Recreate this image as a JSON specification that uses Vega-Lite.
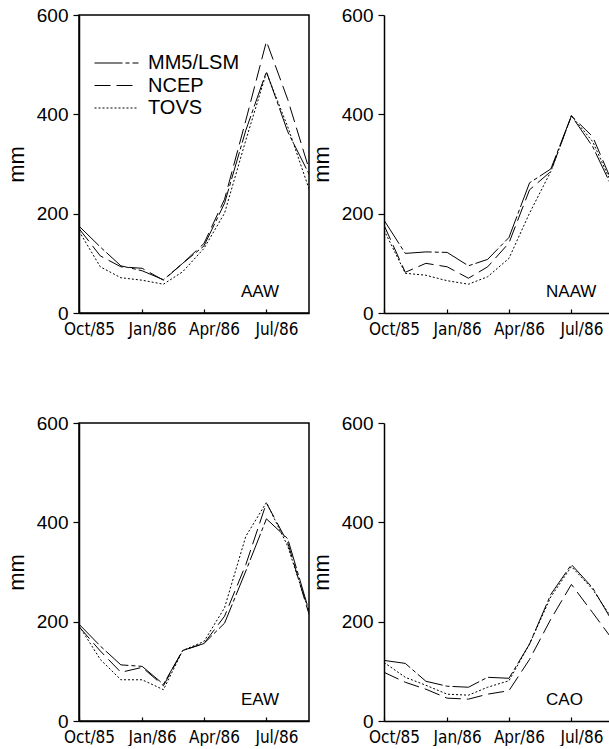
{
  "$schema": "https://vega.github.io/schema/vega-lite/v6.json",
  "padding": {"left": 4, "top": 5, "right": 0, "bottom": 0},
  "background": "white",
  "datasets": {
    "precip": [
      {"region":"AAW","series":"MM5/LSM","month":"1985-10-01","value":175},
      {"region":"AAW","series":"MM5/LSM","month":"1985-11-01","value":133},
      {"region":"AAW","series":"MM5/LSM","month":"1985-12-01","value":95},
      {"region":"AAW","series":"MM5/LSM","month":"1986-01-01","value":85},
      {"region":"AAW","series":"MM5/LSM","month":"1986-02-01","value":67},
      {"region":"AAW","series":"MM5/LSM","month":"1986-03-01","value":100},
      {"region":"AAW","series":"MM5/LSM","month":"1986-04-01","value":135},
      {"region":"AAW","series":"MM5/LSM","month":"1986-05-01","value":221},
      {"region":"AAW","series":"MM5/LSM","month":"1986-06-01","value":368},
      {"region":"AAW","series":"MM5/LSM","month":"1986-07-01","value":486},
      {"region":"AAW","series":"MM5/LSM","month":"1986-08-01","value":365},
      {"region":"AAW","series":"MM5/LSM","month":"1986-09-01","value":280},
      {"region":"AAW","series":"NCEP","month":"1985-10-01","value":170},
      {"region":"AAW","series":"NCEP","month":"1985-11-01","value":115},
      {"region":"AAW","series":"NCEP","month":"1985-12-01","value":93},
      {"region":"AAW","series":"NCEP","month":"1986-01-01","value":90},
      {"region":"AAW","series":"NCEP","month":"1986-02-01","value":66},
      {"region":"AAW","series":"NCEP","month":"1986-03-01","value":100},
      {"region":"AAW","series":"NCEP","month":"1986-04-01","value":140},
      {"region":"AAW","series":"NCEP","month":"1986-05-01","value":229},
      {"region":"AAW","series":"NCEP","month":"1986-06-01","value":388},
      {"region":"AAW","series":"NCEP","month":"1986-07-01","value":547},
      {"region":"AAW","series":"NCEP","month":"1986-08-01","value":430},
      {"region":"AAW","series":"NCEP","month":"1986-09-01","value":290},
      {"region":"AAW","series":"TOVS","month":"1985-10-01","value":165},
      {"region":"AAW","series":"TOVS","month":"1985-11-01","value":93},
      {"region":"AAW","series":"TOVS","month":"1985-12-01","value":71},
      {"region":"AAW","series":"TOVS","month":"1986-01-01","value":66},
      {"region":"AAW","series":"TOVS","month":"1986-02-01","value":58},
      {"region":"AAW","series":"TOVS","month":"1986-03-01","value":83},
      {"region":"AAW","series":"TOVS","month":"1986-04-01","value":130},
      {"region":"AAW","series":"TOVS","month":"1986-05-01","value":201},
      {"region":"AAW","series":"TOVS","month":"1986-06-01","value":348},
      {"region":"AAW","series":"TOVS","month":"1986-07-01","value":484},
      {"region":"AAW","series":"TOVS","month":"1986-08-01","value":375},
      {"region":"AAW","series":"TOVS","month":"1986-09-01","value":250},
      {"region":"NAAW","series":"MM5/LSM","month":"1985-10-01","value":187},
      {"region":"NAAW","series":"MM5/LSM","month":"1985-11-01","value":120},
      {"region":"NAAW","series":"MM5/LSM","month":"1985-12-01","value":123},
      {"region":"NAAW","series":"MM5/LSM","month":"1986-01-01","value":122},
      {"region":"NAAW","series":"MM5/LSM","month":"1986-02-01","value":95},
      {"region":"NAAW","series":"MM5/LSM","month":"1986-03-01","value":108},
      {"region":"NAAW","series":"MM5/LSM","month":"1986-04-01","value":152},
      {"region":"NAAW","series":"MM5/LSM","month":"1986-05-01","value":262},
      {"region":"NAAW","series":"MM5/LSM","month":"1986-06-01","value":290},
      {"region":"NAAW","series":"MM5/LSM","month":"1986-07-01","value":397},
      {"region":"NAAW","series":"MM5/LSM","month":"1986-08-01","value":335},
      {"region":"NAAW","series":"MM5/LSM","month":"1986-09-01","value":245},
      {"region":"NAAW","series":"NCEP","month":"1985-10-01","value":177},
      {"region":"NAAW","series":"NCEP","month":"1985-11-01","value":82},
      {"region":"NAAW","series":"NCEP","month":"1985-12-01","value":100},
      {"region":"NAAW","series":"NCEP","month":"1986-01-01","value":93},
      {"region":"NAAW","series":"NCEP","month":"1986-02-01","value":70},
      {"region":"NAAW","series":"NCEP","month":"1986-03-01","value":93},
      {"region":"NAAW","series":"NCEP","month":"1986-04-01","value":141},
      {"region":"NAAW","series":"NCEP","month":"1986-05-01","value":248},
      {"region":"NAAW","series":"NCEP","month":"1986-06-01","value":285},
      {"region":"NAAW","series":"NCEP","month":"1986-07-01","value":397},
      {"region":"NAAW","series":"NCEP","month":"1986-08-01","value":355},
      {"region":"NAAW","series":"NCEP","month":"1986-09-01","value":255},
      {"region":"NAAW","series":"TOVS","month":"1985-10-01","value":167},
      {"region":"NAAW","series":"TOVS","month":"1985-11-01","value":80},
      {"region":"NAAW","series":"TOVS","month":"1985-12-01","value":76},
      {"region":"NAAW","series":"TOVS","month":"1986-01-01","value":65},
      {"region":"NAAW","series":"TOVS","month":"1986-02-01","value":58},
      {"region":"NAAW","series":"TOVS","month":"1986-03-01","value":73},
      {"region":"NAAW","series":"TOVS","month":"1986-04-01","value":110},
      {"region":"NAAW","series":"TOVS","month":"1986-05-01","value":201},
      {"region":"NAAW","series":"TOVS","month":"1986-06-01","value":285},
      {"region":"NAAW","series":"TOVS","month":"1986-07-01","value":397},
      {"region":"NAAW","series":"TOVS","month":"1986-08-01","value":345},
      {"region":"NAAW","series":"TOVS","month":"1986-09-01","value":250},
      {"region":"EAW","series":"MM5/LSM","month":"1985-10-01","value":195},
      {"region":"EAW","series":"MM5/LSM","month":"1985-11-01","value":151},
      {"region":"EAW","series":"MM5/LSM","month":"1985-12-01","value":113},
      {"region":"EAW","series":"MM5/LSM","month":"1986-01-01","value":110},
      {"region":"EAW","series":"MM5/LSM","month":"1986-02-01","value":74},
      {"region":"EAW","series":"MM5/LSM","month":"1986-03-01","value":142},
      {"region":"EAW","series":"MM5/LSM","month":"1986-04-01","value":156},
      {"region":"EAW","series":"MM5/LSM","month":"1986-05-01","value":197},
      {"region":"EAW","series":"MM5/LSM","month":"1986-06-01","value":302},
      {"region":"EAW","series":"MM5/LSM","month":"1986-07-01","value":407},
      {"region":"EAW","series":"MM5/LSM","month":"1986-08-01","value":367},
      {"region":"EAW","series":"MM5/LSM","month":"1986-09-01","value":222},
      {"region":"EAW","series":"NCEP","month":"1985-10-01","value":190},
      {"region":"EAW","series":"NCEP","month":"1985-11-01","value":141},
      {"region":"EAW","series":"NCEP","month":"1985-12-01","value":98},
      {"region":"EAW","series":"NCEP","month":"1986-01-01","value":108},
      {"region":"EAW","series":"NCEP","month":"1986-02-01","value":71},
      {"region":"EAW","series":"NCEP","month":"1986-03-01","value":142},
      {"region":"EAW","series":"NCEP","month":"1986-04-01","value":156},
      {"region":"EAW","series":"NCEP","month":"1986-05-01","value":211},
      {"region":"EAW","series":"NCEP","month":"1986-06-01","value":315},
      {"region":"EAW","series":"NCEP","month":"1986-07-01","value":439},
      {"region":"EAW","series":"NCEP","month":"1986-08-01","value":359},
      {"region":"EAW","series":"NCEP","month":"1986-09-01","value":215},
      {"region":"EAW","series":"TOVS","month":"1985-10-01","value":192},
      {"region":"EAW","series":"TOVS","month":"1985-11-01","value":124},
      {"region":"EAW","series":"TOVS","month":"1985-12-01","value":83},
      {"region":"EAW","series":"TOVS","month":"1986-01-01","value":83},
      {"region":"EAW","series":"TOVS","month":"1986-02-01","value":63},
      {"region":"EAW","series":"TOVS","month":"1986-03-01","value":142},
      {"region":"EAW","series":"TOVS","month":"1986-04-01","value":160},
      {"region":"EAW","series":"TOVS","month":"1986-05-01","value":228},
      {"region":"EAW","series":"TOVS","month":"1986-06-01","value":372},
      {"region":"EAW","series":"TOVS","month":"1986-07-01","value":440},
      {"region":"EAW","series":"TOVS","month":"1986-08-01","value":352},
      {"region":"EAW","series":"TOVS","month":"1986-09-01","value":220},
      {"region":"CAO","series":"MM5/LSM","month":"1985-10-01","value":122},
      {"region":"CAO","series":"MM5/LSM","month":"1985-11-01","value":116},
      {"region":"CAO","series":"MM5/LSM","month":"1985-12-01","value":80},
      {"region":"CAO","series":"MM5/LSM","month":"1986-01-01","value":70},
      {"region":"CAO","series":"MM5/LSM","month":"1986-02-01","value":68},
      {"region":"CAO","series":"MM5/LSM","month":"1986-03-01","value":88},
      {"region":"CAO","series":"MM5/LSM","month":"1986-04-01","value":86},
      {"region":"CAO","series":"MM5/LSM","month":"1986-05-01","value":155},
      {"region":"CAO","series":"MM5/LSM","month":"1986-06-01","value":255},
      {"region":"CAO","series":"MM5/LSM","month":"1986-07-01","value":315},
      {"region":"CAO","series":"MM5/LSM","month":"1986-08-01","value":268},
      {"region":"CAO","series":"MM5/LSM","month":"1986-09-01","value":195},
      {"region":"CAO","series":"NCEP","month":"1985-10-01","value":98},
      {"region":"CAO","series":"NCEP","month":"1985-11-01","value":78},
      {"region":"CAO","series":"NCEP","month":"1985-12-01","value":64},
      {"region":"CAO","series":"NCEP","month":"1986-01-01","value":46},
      {"region":"CAO","series":"NCEP","month":"1986-02-01","value":44},
      {"region":"CAO","series":"NCEP","month":"1986-03-01","value":54},
      {"region":"CAO","series":"NCEP","month":"1986-04-01","value":61},
      {"region":"CAO","series":"NCEP","month":"1986-05-01","value":124},
      {"region":"CAO","series":"NCEP","month":"1986-06-01","value":205},
      {"region":"CAO","series":"NCEP","month":"1986-07-01","value":275},
      {"region":"CAO","series":"NCEP","month":"1986-08-01","value":218},
      {"region":"CAO","series":"NCEP","month":"1986-09-01","value":160},
      {"region":"CAO","series":"TOVS","month":"1985-10-01","value":118},
      {"region":"CAO","series":"TOVS","month":"1985-11-01","value":88},
      {"region":"CAO","series":"TOVS","month":"1985-12-01","value":72},
      {"region":"CAO","series":"TOVS","month":"1986-01-01","value":54},
      {"region":"CAO","series":"TOVS","month":"1986-02-01","value":52},
      {"region":"CAO","series":"TOVS","month":"1986-03-01","value":68},
      {"region":"CAO","series":"TOVS","month":"1986-04-01","value":81},
      {"region":"CAO","series":"TOVS","month":"1986-05-01","value":155},
      {"region":"CAO","series":"TOVS","month":"1986-06-01","value":250},
      {"region":"CAO","series":"TOVS","month":"1986-07-01","value":311},
      {"region":"CAO","series":"TOVS","month":"1986-08-01","value":265},
      {"region":"CAO","series":"TOVS","month":"1986-09-01","value":200}
    ]
  },
  "config": {
    "view": {"stroke": "black", "strokeWidth": 1.5},
    "axis": {"grid": false, "domainColor": "black", "domainWidth": 1.5, "tickColor": "black", "tickWidth": 1.2, "labelColor": "black", "titleColor": "black"},
    "axisX": {"labelFont": "DejaVu Sans Condensed", "labelFontSize": 17, "tickSize": -4, "labelPadding": 12, "labelOffset": 10, "labelAngle": 0, "labelFlush": false, "labelOverlap": false},
    "axisY": {"titleFont": "Liberation Sans", "titleFontSize": 22, "titleFontWeight": "normal", "titlePadding": 8, "labelFont": "Liberation Sans", "labelFontSize": 19, "tickSize": 6, "labelPadding": 5, "labelFlush": false},
    "legend": {"orient": "none", "legendX": 27.5, "legendY": 38, "title": null, "padding": 0, "labelFont": "Liberation Sans", "labelFontSize": 20, "labelColor": "black", "symbolType": "M-4,0H4", "symbolSize": 121, "symbolStrokeWidth": 1, "symbolStrokeColor": "black", "symbolFillColor": "transparent", "labelOffset": 21.5, "rowPadding": 2.5}
  },
  "columns": 2,
  "spacing": {"column": 75, "row": 110},
  "bounds": "flush",
  "resolve": {"scale": {"strokeDash": "independent"}, "legend": {"strokeDash": "independent"}},
  "concat": [
    {
      "width": 230, "height": 298,
      "layer": [
        {
          "data": {"name": "precip"},
          "transform": [{"filter": "datum.region === 'AAW'"}],
          "mark": {"type": "line", "stroke": "black", "strokeWidth": 1, "clip": true},
          "encoding": {
            "x": {"field": "month", "type": "temporal", "scale": {"type": "utc", "domain": [{"year":1985,"month":10,"date":1,"utc":true},{"year":1986,"month":9,"date":1,"utc":true}]}, "axis": {"values": [{"year":1985,"month":10,"date":1,"utc":true},{"year":1986,"month":1,"date":1,"utc":true},{"year":1986,"month":4,"date":1,"utc":true},{"year":1986,"month":7,"date":1,"utc":true}], "format": "%b/%y", "title": null}},
            "y": {"field": "value", "type": "quantitative", "scale": {"domain": [0, 600], "nice": false}, "axis": {"values": [0, 200, 400, 600], "title": "mm"}},
            "strokeDash": {"field": "series", "type": "nominal", "scale": {"domain": ["MM5/LSM","NCEP","TOVS"], "range": [[28,3,4,3],[16,6],[2,2]]}}
          }
        },
        {
          "data": {"values": [{"label": "AAW"}]},
          "mark": {"type": "text", "align": "left", "baseline": "middle", "font": "Liberation Sans", "fontSize": 17, "color": "black"},
          "encoding": {
            "x": {"datum": {"year":1986,"month":5,"date":25,"utc":true}, "type": "temporal"},
            "y": {"datum": 42},
            "text": {"field": "label"}
          }
        }
      ]
    },
    {
      "width": 226, "height": 298,
      "view": {"stroke": null},
      "layer": [
        {
          "data": {"name": "precip"},
          "transform": [{"filter": "datum.region === 'NAAW'"}],
          "mark": {"type": "line", "stroke": "black", "strokeWidth": 1, "clip": true},
          "encoding": {
            "x": {"field": "month", "type": "temporal", "scale": {"type": "utc", "domain": [{"year":1985,"month":10,"date":1,"utc":true},{"year":1986,"month":8,"date":26,"hours":5,"utc":true}]}, "axis": {"values": [{"year":1985,"month":10,"date":1,"utc":true},{"year":1986,"month":1,"date":1,"utc":true},{"year":1986,"month":4,"date":1,"utc":true},{"year":1986,"month":7,"date":1,"utc":true}], "format": "%b/%y", "title": null}},
            "y": {"field": "value", "type": "quantitative", "scale": {"domain": [0, 600], "nice": false}, "axis": {"values": [0, 200, 400, 600], "title": "mm"}},
            "strokeDash": {"field": "series", "type": "nominal", "scale": {"domain": ["MM5/LSM","NCEP","TOVS"], "range": [[28,3,4,3],[16,6],[2,2]]}, "legend": null}
          }
        },
        {
          "mark": {"type": "rule", "stroke": "black", "strokeWidth": 1.5},
          "encoding": {"y": {"datum": 600}}
        },
        {
          "data": {"values": [{"label": "NAAW"}]},
          "mark": {"type": "text", "align": "left", "baseline": "middle", "font": "Liberation Sans", "fontSize": 17, "color": "black"},
          "encoding": {
            "x": {"datum": {"year":1986,"month":5,"date":25,"utc":true}, "type": "temporal"},
            "y": {"datum": 42},
            "text": {"field": "label"}
          }
        }
      ]
    },
    {
      "width": 230, "height": 298,
      "layer": [
        {
          "data": {"name": "precip"},
          "transform": [{"filter": "datum.region === 'EAW'"}],
          "mark": {"type": "line", "stroke": "black", "strokeWidth": 1, "clip": true},
          "encoding": {
            "x": {"field": "month", "type": "temporal", "scale": {"type": "utc", "domain": [{"year":1985,"month":10,"date":1,"utc":true},{"year":1986,"month":9,"date":1,"utc":true}]}, "axis": {"values": [{"year":1985,"month":10,"date":1,"utc":true},{"year":1986,"month":1,"date":1,"utc":true},{"year":1986,"month":4,"date":1,"utc":true},{"year":1986,"month":7,"date":1,"utc":true}], "format": "%b/%y", "title": null}},
            "y": {"field": "value", "type": "quantitative", "scale": {"domain": [0, 600], "nice": false}, "axis": {"values": [0, 200, 400, 600], "title": "mm"}},
            "strokeDash": {"field": "series", "type": "nominal", "scale": {"domain": ["MM5/LSM","NCEP","TOVS"], "range": [[28,3,4,3],[16,6],[2,2]]}, "legend": null}
          }
        },
        {
          "data": {"values": [{"label": "EAW"}]},
          "mark": {"type": "text", "align": "left", "baseline": "middle", "font": "Liberation Sans", "fontSize": 17, "color": "black"},
          "encoding": {
            "x": {"datum": {"year":1986,"month":5,"date":25,"utc":true}, "type": "temporal"},
            "y": {"datum": 42},
            "text": {"field": "label"}
          }
        }
      ]
    },
    {
      "width": 226, "height": 298,
      "view": {"stroke": null},
      "layer": [
        {
          "data": {"name": "precip"},
          "transform": [{"filter": "datum.region === 'CAO'"}],
          "mark": {"type": "line", "stroke": "black", "strokeWidth": 1, "clip": true},
          "encoding": {
            "x": {"field": "month", "type": "temporal", "scale": {"type": "utc", "domain": [{"year":1985,"month":10,"date":1,"utc":true},{"year":1986,"month":8,"date":26,"hours":5,"utc":true}]}, "axis": {"values": [{"year":1985,"month":10,"date":1,"utc":true},{"year":1986,"month":1,"date":1,"utc":true},{"year":1986,"month":4,"date":1,"utc":true},{"year":1986,"month":7,"date":1,"utc":true}], "format": "%b/%y", "title": null}},
            "y": {"field": "value", "type": "quantitative", "scale": {"domain": [0, 600], "nice": false}, "axis": {"values": [0, 200, 400, 600], "title": "mm"}},
            "strokeDash": {"field": "series", "type": "nominal", "scale": {"domain": ["MM5/LSM","NCEP","TOVS"], "range": [[28,3,4,3],[16,6],[2,2]]}, "legend": null}
          }
        },
        {
          "mark": {"type": "rule", "stroke": "black", "strokeWidth": 1.5},
          "encoding": {"y": {"datum": 600}}
        },
        {
          "data": {"values": [{"label": "CAO"}]},
          "mark": {"type": "text", "align": "left", "baseline": "middle", "font": "Liberation Sans", "fontSize": 17, "color": "black"},
          "encoding": {
            "x": {"datum": {"year":1986,"month":5,"date":25,"utc":true}, "type": "temporal"},
            "y": {"datum": 42},
            "text": {"field": "label"}
          }
        }
      ]
    }
  ]
}
